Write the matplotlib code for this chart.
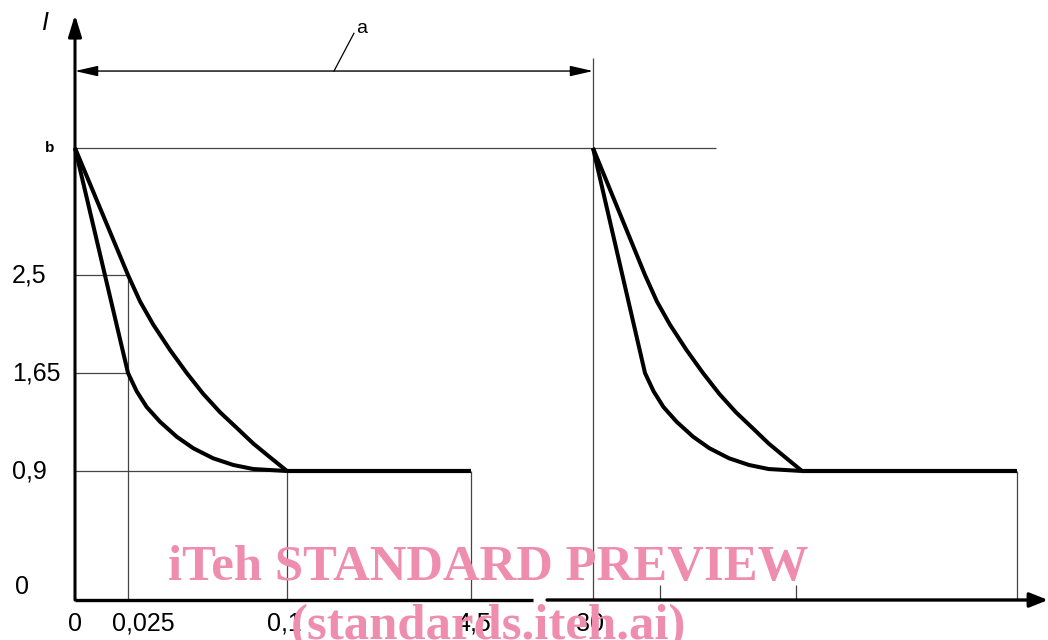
#!/usr/bin/env python

import numpy as np
import matplotlib.pyplot as plt

plt.rcParams['font.family'] = ['Liberation Sans', 'DejaVu Sans']

# Level "b" (start of each pulse), drawn as nominal value
b_level = 4.0

# Time points of the two pulses (second pulse starts at 30)
t_pulse2 = 30.0
t_flat_end = 4.5

# Upper envelope (time, current)
upper_t = [0, 0.025, 0.0307, 0.0369, 0.0448, 0.0527, 0.0605, 0.0684, 0.0763, 0.0841, 0.092, 0.1]
upper_i = [b_level, 2.5, 2.27, 2.07, 1.85, 1.65, 1.49, 1.35, 1.23, 1.11, 1.005, 0.9]

# Lower envelope (time, current)
lower_t = [0, 0.025, 0.0291, 0.0338, 0.0401, 0.048, 0.0558, 0.0652, 0.0747, 0.0841, 0.1]
lower_i = [b_level, 1.65, 1.51, 1.39, 1.277, 1.162, 1.074, 0.997, 0.946, 0.915, 0.9]

# Flat part
flat_t = [0.1, t_flat_end]
flat_i = [0.9, 0.9]

# Axis labels
y_levels = [0.9, 1.65, 2.5]
y_labels = ["0,9", "1,65", "2,5"]
x_ticks = [0, 0.025, 0.1, 4.5, 30]
x_labels = ["0", "0,025", "0,1", "4,5", "30"]

# piecewise scale so the drawing keeps its (non-proportional) spacing
XV = [-0.0354, 0, 0.025, 0.1, 4.5, 30, 30.025, 30.1, 34.5, 35.2]
XP = [0, 75, 128, 287, 471, 593, 645, 802, 1017, 1052]
YV = [-0.3, 0, 0.9, 1.65, 2.5, 4.0, 6.0]
YP = [0, 40, 169, 267, 365, 492, 640]


def xf(v):
    return np.interp(v, XV, XP)


def xi(p):
    return np.interp(p, XP, XV)


def yf(v):
    return np.interp(v, YV, YP)


def yi(p):
    return np.interp(p, YP, YV)


fig = plt.figure(figsize=(10.48, 6.4), dpi=100)
ax = fig.add_axes([0, 0, 1, 1])
ax.set_xscale('function', functions=(xf, xi))
ax.set_yscale('function', functions=(yf, yi))
x_right = float(xi(1048))
ax.set_xlim(xi(0), x_right)
ax.set_ylim(-0.3, 6.0)
ax.axis('off')

thin = dict(color='#444444', lw=0.9, solid_capstyle='butt')
thick = dict(color='black', lw=2.9, solid_capstyle='butt', solid_joinstyle='round')

# helper lines, first pulse
ax.plot([0, 30.059], [b_level, b_level], **thin)
ax.plot([0, 0.025], [2.5, 2.5], **thin)
ax.plot([0, 0.025], [1.65, 1.65], **thin)
ax.plot([0, 0.1], [0.9, 0.9], **thin)
ax.plot([0.025, 0.025], [0, 2.5], **thin)
ax.plot([0.1, 0.1], [0, 0.9], **thin)
ax.plot([4.5, 4.5], [0, 0.9], **thin)
ax.plot([30, 30], [0, 5.22], **thin)
ax.plot([34.5, 34.5], [0, 0.9], **thin)
ax.plot([30.032, 30.032], [0, 0.105], **thin)
ax.plot([30.097, 30.097], [0, 0.105], **thin)

# the two pulses
for t0 in [0, t_pulse2]:
    ax.plot(np.array(upper_t) + t0, upper_i, **thick)
    ax.plot(np.array(lower_t) + t0, lower_i, **thick)
    ax.plot(np.array(flat_t) + t0, flat_i, color='black', lw=3.0, solid_capstyle='butt')

# axes with arrows
ax.annotate('', xy=(0, 5.80), xytext=(0, 0), annotation_clip=False,
            arrowprops=dict(arrowstyle='-|>,head_length=0.65,head_width=0.2',
                            lw=2.2, color='black', shrinkA=0, shrinkB=0,
                            mutation_scale=20))
ax.plot([0, 17.46], [0, 0], color='black', lw=2.4, solid_capstyle='butt')
ax.annotate('', xy=(x_right, 0), xytext=(20.39, 0), annotation_clip=False,
            arrowprops=dict(arrowstyle='-|>,head_length=0.55,head_width=0.22',
                            lw=2.4, color='black', shrinkA=0, shrinkB=0,
                            mutation_scale=20))

# dimension "a"
ax.annotate('', xy=(0, 5.04), xytext=(30, 5.04), annotation_clip=False,
            arrowprops=dict(arrowstyle='<|-|>,head_length=0.7,head_width=0.16',
                            lw=1.0, color='black', shrinkA=0, shrinkB=0,
                            mutation_scale=20))
ax.plot([1.224, 1.70], [5.04, 5.55], color='black', lw=0.9)
ax.text(1.89, 5.62, "a", fontsize=14, ha='center', va='center')

# y labels
ytr = ax.get_yaxis_transform()
for v, s in zip(y_levels, y_labels):
    ax.text(12 / 1048, v, s, transform=ytr, fontsize=18, ha='left', va='center')
ax.annotate("0", xy=(15 / 1048, 0), xycoords=('axes fraction', 'data'),
            xytext=(0, 9), textcoords='offset points', fontsize=18, ha='left', va='center')
ax.text(50 / 1048, b_level, "b", transform=ytr, fontsize=11, fontweight='bold',
        ha='center', va='center')
ax.text(45 / 1048, 5.69, "I", transform=ytr, fontsize=18, style='italic',
        ha='center', va='center')

# x labels
x_offsets = [0, 11, -2, 2, -2]
for v, s, dx in zip(x_ticks, x_labels, x_offsets):
    ax.annotate(s, xy=(v, 0), xytext=(dx, -17), textcoords='offset points',
                fontsize=18, ha='center', va='center')

# watermark
wm = dict(family=['Liberation Serif', 'DejaVu Serif'], fontweight='bold', fontsize=36.5,
          color='#EF8DAE', ha='center', va='baseline', zorder=10)
fig.text(488.5 / 1048, 60 / 640, "iTeh STANDARD PREVIEW", **wm)
fig.text(488.5 / 1048, 1 / 640, "(standards.iteh.ai)", **wm)

fig.savefig("out.png", dpi=100)
